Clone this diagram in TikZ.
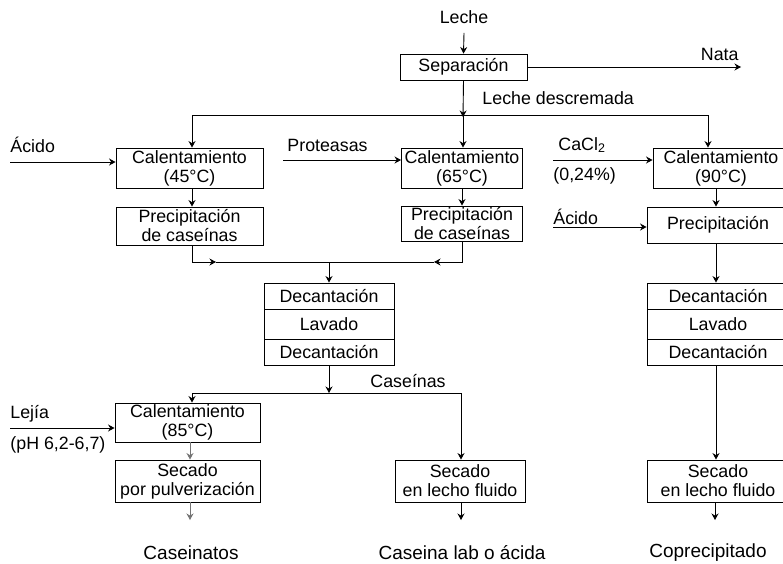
\documentclass[tikz,border=0pt]{standalone}
\usepackage{fontspec}
\setmainfont{Liberation Sans}
\usetikzlibrary{arrows.meta}
\begin{document}
\begin{tikzpicture}[x=1pt,y=-1pt, line width=0.9pt,
  box/.style={draw, inner sep=0pt, align=center, font=\fontsize{17.8}{19}\selectfont},
  lbl/.style={inner sep=0pt, font=\fontsize{17.8}{19}\selectfont},
  big/.style={inner sep=0pt, font=\fontsize{19}{22}\selectfont},
  arr/.style={-{Stealth[length=6.5pt,width=7pt]}},
  faint/.style={draw=black!55}
]
\useasboundingbox (0,0) rectangle (783,563);
\clip (0,0) rectangle (783,563);

% top
\node[lbl] (leche) at (464,17) {Leche};
\node[box, minimum width=127, minimum height=26] (sep) at (463.5,67) {Separación};
\node[lbl, anchor=base east] (nata) at (739,60) {Nata};
\coordinate (nataend) at (741,67);
\node[lbl, anchor=west] (ldesc) at (482,98) {Leche descremada};
\draw[arr] ([yshift=-9pt]leche.south) -- (sep.north);
\draw[arr] (sep.east) -- (nataend);

% heating boxes
\node[box, minimum width=147, minimum height=40] (c45) at (189.5,168) {Calentamiento\\(45°C)};
\node[box, minimum width=121, minimum height=40] (c65) at (462,168) {Calentamiento\\(65°C)};
\node[box, minimum width=136, minimum height=40] (c90) at (721,168) {Calentamiento\\(90°C)};

% distribution line
\coordinate (j1) at (192,115);
\coordinate (j2) at (463,115);
\coordinate (j3) at (708,115);
\draw (j1) -- (j3);
\draw[arr] (sep.south) -- ([yshift=-2pt]j2);
\draw[arr] (j1) -- (c45.north -| j1);
\draw[arr] (j2) -- (c65.north -| j2);
\draw[arr] (j3) -- (c90.north -| j3);

% side inputs top
\node[lbl, anchor=west] (acido1) at (10,145) {Ácido};
\coordinate (a1s) at (10,162);
\draw[arr] (a1s) -- (a1s -| c45.west);
\node[lbl, anchor=west] (prot) at (287,145) {Proteasas};
\coordinate (prs) at (283,160);
\draw[arr] (prs) -- (prs -| c65.west);
\node[lbl, anchor=west] (cacl) at (558,145) {CaCl\textsubscript{2}};
\node[lbl, anchor=west] (pct) at (553,176) {(0,24\%)};
\coordinate (cas) at (553,160);
\draw[arr] (cas) -- (cas -| c90.west);

% precipitation
\node[box, minimum width=147, minimum height=38] (p1) at (189.5,226) {Precipitación\\de caseínas};
\node[box, minimum width=121, minimum height=35] (p2) at (462,223.5) {Precipitación\\de caseínas};
\node[box, minimum width=142, minimum height=36] (p3) at (718,225) {Precipitación};
\node[lbl, anchor=west] (acido2) at (553,217) {Ácido};
\coordinate (a2s) at (553,227);
\draw[arr] (a2s) -- (a2s -| p3.west);

\coordinate (lx) at (192,0);
\coordinate (mx) at (462,0);
\coordinate (rx) at (716,0);
\draw[arr] (c45.south -| lx) -- (p1.north -| lx);
\draw[arr] (c65.south -| mx) -- (p2.north -| mx);
\draw[arr] (c90.south -| rx) -- (p3.north -| rx);

% merge
\coordinate (m1) at (192,262);
\coordinate (m2) at (462,262);
\coordinate (mc) at (329,262);
\coordinate (ma1) at (216,262);
\coordinate (ma2) at (434,262);
\draw[arr] (p1.south -| m1) -- (m1) -- (ma1);
\draw (ma1) -- (ma2);
\draw[arr] (p2.south -| m2) -- (m2) -- (ma2);

% middle stack
\node[box, minimum width=130, minimum height=26] (d1) at (329,296) {Decantación};
\node[box, minimum width=130, minimum height=30] (lav1) at (329,324) {Lavado};
\node[box, minimum width=130, minimum height=26] (d2) at (329,352) {Decantación};
\draw[arr] (mc) -- (d1.north);

% right stack
\node[box, minimum width=142, minimum height=26] (r1) at (718,296) {Decantación};
\node[box, minimum width=142, minimum height=30] (lav2) at (718,324) {Lavado};
\node[box, minimum width=142, minimum height=26] (r2) at (718,352) {Decantación};
\draw[arr] (p3.south -| rx) -- (r1.north -| rx);

% caseinas split
\coordinate (k1) at (192,393);
\coordinate (kc) at (329,393);
\coordinate (k2) at (461,393);
\node[lbl, anchor=west] (casein) at (370,381) {Caseínas};
\draw[arr] (d2.south) -- (kc);
\draw (k1) -- (k2);

\node[box, minimum width=145, minimum height=39] (c85) at (187.5,422.5) {Calentamiento\\(85°C)};
\node[lbl, anchor=west] (lejia) at (10,414) {Lejía};
\node[lbl, anchor=west] (ph) at (10,445) {(pH 6,2-6,7)};
\coordinate (ls) at (10,428);
\draw[arr] (ls) -- (ls -| c85.west);
\draw[arr] (k1) -- (c85.north -| k1);

% drying
\node[box, minimum width=145, minimum height=42] (s1) at (187.5,481) {Secado\\por pulverización};
\node[box, minimum width=130, minimum height=42] (s2) at (460,481) {Secado\\en lecho fluido};
\node[box, minimum width=142, minimum height=42] (s3) at (718,481) {Secado\\en lecho fluido};
\draw[arr, faint] (c85.south -| 190,0) -- (s1.north -| 190,0);
\draw[arr] (k2) -- (s2.north -| k2);
\draw[arr] (r2.south -| rx) -- (s3.north -| rx);

% outputs
\coordinate (o1) at (190,520);
\coordinate (o2) at (461,520);
\coordinate (o3) at (715,520);
\draw[arr, faint] (s1.south -| o1) -- (o1);
\draw[arr] (s2.south -| o2) -- (o2);
\draw[arr] (s3.south -| o3) -- (o3);
\node[big] (cnato) at (191,553) {Caseinatos};
\node[big] (clab) at (462,553) {Caseina lab o ácida};
\node[big] (copr) at (708,553) {Coprecipitado};
\end{tikzpicture}
\end{document}
